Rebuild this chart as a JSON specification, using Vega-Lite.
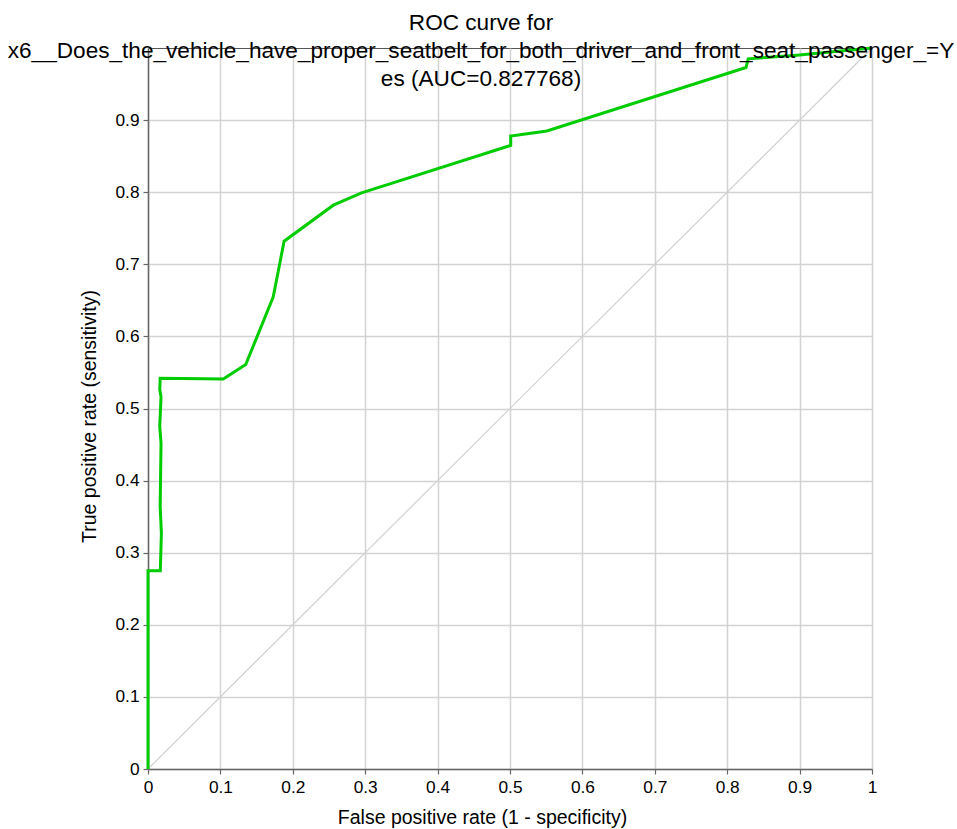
{
  "$schema": "https://vega.github.io/schema/vega-lite/v6.json",
  "width": 724,
  "height": 721,
  "autosize": {"type": "none"},
  "padding": {"left": 148, "top": 48, "right": 85, "bottom": 60},
  "background": "white",
  "title": {
    "text": ["ROC curve for", "x6__Does_the_vehicle_have_proper_seatbelt_for_both_driver_and_front_seat_passenger_=Y", "es (AUC=0.827768)"],
    "font": "Liberation Sans",
    "fontSize": 22.6,
    "fontWeight": "normal",
    "color": "black",
    "anchor": "middle",
    "lineHeight": 28,
    "offset": -49,
    "dx": -29
  },
  "datasets": {
    "roc": [
      {"i": 0, "fpr": 0, "tpr": 0},
      {"i": 1, "fpr": 0, "tpr": 0.275},
      {"i": 2, "fpr": 0.017, "tpr": 0.275},
      {"i": 3, "fpr": 0.0185, "tpr": 0.327},
      {"i": 4, "fpr": 0.0168, "tpr": 0.364},
      {"i": 5, "fpr": 0.018, "tpr": 0.452},
      {"i": 6, "fpr": 0.0162, "tpr": 0.475},
      {"i": 7, "fpr": 0.018, "tpr": 0.516},
      {"i": 8, "fpr": 0.0163, "tpr": 0.526},
      {"i": 9, "fpr": 0.0168, "tpr": 0.542},
      {"i": 10, "fpr": 0.104, "tpr": 0.541},
      {"i": 11, "fpr": 0.135, "tpr": 0.561},
      {"i": 12, "fpr": 0.173, "tpr": 0.655},
      {"i": 13, "fpr": 0.188, "tpr": 0.732},
      {"i": 14, "fpr": 0.256, "tpr": 0.782},
      {"i": 15, "fpr": 0.295, "tpr": 0.799},
      {"i": 16, "fpr": 0.501, "tpr": 0.865},
      {"i": 17, "fpr": 0.501, "tpr": 0.878},
      {"i": 18, "fpr": 0.551, "tpr": 0.885},
      {"i": 19, "fpr": 0.826, "tpr": 0.973},
      {"i": 20, "fpr": 0.829, "tpr": 0.985},
      {"i": 21, "fpr": 0.896, "tpr": 0.99},
      {"i": 22, "fpr": 1, "tpr": 1}
    ],
    "diag": [
      {"i": 0, "fpr": 0, "tpr": 0},
      {"i": 1, "fpr": 1, "tpr": 1}
    ]
  },
  "encoding": {
    "x": {
      "field": "fpr",
      "type": "quantitative",
      "scale": {"domain": [0, 1], "nice": false, "zero": false},
      "axis": {
        "values": [0, 0.1, 0.2, 0.3, 0.4, 0.5, 0.6, 0.7, 0.8, 0.9, 1],
        "format": "~g",
        "labelFlush": false,
        "title": "False positive rate (1 - specificity)",
        "titleX": 334,
        "titlePadding": 13
      }
    },
    "y": {
      "field": "tpr",
      "type": "quantitative",
      "scale": {"domain": [0, 1], "nice": false, "zero": false},
      "axis": {
        "values": [0, 0.1, 0.2, 0.3, 0.4, 0.5, 0.6, 0.7, 0.8, 0.9],
        "format": "~g",
        "labelFlush": false,
        "title": "True positive rate (sensitivity)",
        "titleY": 368,
        "titlePadding": 15
      }
    },
    "order": {"field": "i", "type": "quantitative"}
  },
  "layer": [
    {
      "data": {"name": "diag"},
      "mark": {"type": "line", "color": "#d0d0d0", "strokeWidth": 1.2}
    },
    {
      "data": {"name": "roc"},
      "mark": {"type": "line", "color": "#00cc00", "strokeWidth": 3, "strokeJoin": "miter"}
    }
  ],
  "config": {
    "view": {"stroke": "#555555", "strokeWidth": 1},
    "axis": {
      "labelFont": "Liberation Sans",
      "labelFontSize": 17.3,
      "labelColor": "black",
      "titleFont": "Liberation Sans",
      "titleFontSize": 19.5,
      "titleFontWeight": "normal",
      "titleColor": "black",
      "domainColor": "#666666",
      "domainWidth": 1.5,
      "tickColor": "#666666",
      "tickSize": 5,
      "tickWidth": 1.2,
      "gridColor": "#d3d3d3",
      "gridWidth": 1.5,
      "gridOpacity": 1,
      "labelPadding": 4
    }
  }
}
